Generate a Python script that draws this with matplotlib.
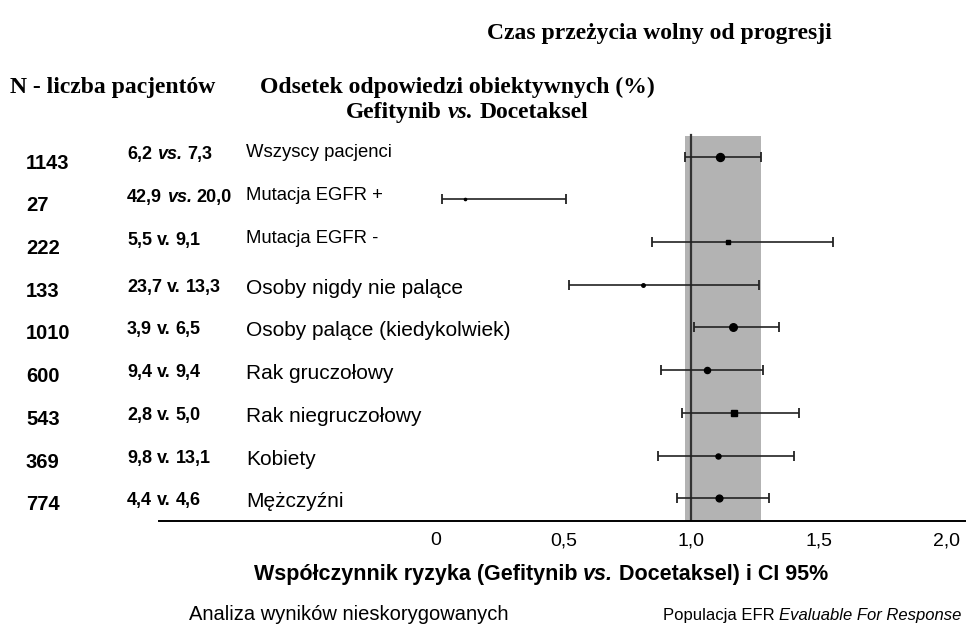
import matplotlib
matplotlib.use('Agg')
import matplotlib.pyplot as plt
import matplotlib.transforms as mtransforms
import numpy as np

plt.rcParams['font.family'] = ['Liberation Sans', 'DejaVu Sans']

# data
groups = ['Wszyscy pacjenci', 'Mutacja EGFR +', 'Mutacja EGFR -', 'Osoby nigdy nie palące',
          'Osoby palące (kiedykolwiek)', 'Rak gruczołowy', 'Rak niegruczołowy', 'Kobiety', 'Mężczyźni']
n_pat = [1143, 27, 222, 133, 1010, 600, 543, 369, 774]
orr_gef = ['6,2', '42,9', '5,5', '23,7', '3,9', '9,4', '2,8', '9,8', '4,4']
orr_sep = ['vs.', 'vs.', 'v.', 'v.', 'v.', 'v.', 'v.', 'v.', 'v.']
orr_doc = ['7,3', '20,0', '9,1', '13,3', '6,5', '9,4', '5,0', '13,1', '4,6']
hr = [1.114, 0.114, 1.145, 0.812, 1.165, 1.063, 1.169, 1.105, 1.110]
ci_lo = [0.975, 0.024, 0.847, 0.520, 1.012, 0.881, 0.965, 0.869, 0.945]
ci_hi = [1.273, 0.510, 1.556, 1.267, 1.345, 1.283, 1.422, 1.404, 1.306]
markers = ['o', 'o', 's', 'o', 'o', 'o', 's', 'o', 'o']
ticks = [0, 0.5, 1.0, 1.5, 2.0]
tick_labels = ['0', '0,5', '1,0', '1,5', '2,0']

W, H = 966, 631
fig = plt.figure(figsize=(W / 100, H / 100), dpi=100)
ax = fig.add_axes([159 / W, 110 / H, 807 / W, 521 / H])
ax.set_xlim(-1.086, 2.078)
ax.set_ylim(8.533, -3.669)

# shaded band = CI of all patients, reference line at 1
ax.axvspan(ci_lo[0], ci_hi[0], ymin=0, ymax=0.739, color='#b3b3b3', lw=0, zorder=1)
ax.axvline(1.0, ymin=0, ymax=0.741, color='#333333', lw=1.6, zorder=2)

rows = np.arange(len(groups))
for i in rows:
    ms = (1.2 + 0.2 * np.sqrt(n_pat[i])) / 1.389
    ax.errorbar(hr[i], i, xerr=[[hr[i] - ci_lo[i]], [ci_hi[i] - hr[i]]], fmt=markers[i],
                color='black', ecolor='#222222', ms=ms, elinewidth=1.2, capsize=3.3,
                capthick=1.3, zorder=3)

for s in ['top', 'left', 'right']:
    ax.spines[s].set_visible(False)
ax.spines['bottom'].set_linewidth(1.4)
ax.set_yticks([])
ax.set_xticks(ticks)
ax.set_xticklabels(tick_labels, fontsize=14)
ax.tick_params(axis='x', length=0, pad=8)

renderer = fig.canvas.get_renderer()


def put(x_px, y, parts, ytrans, size, ha='left', **kw):
    tr = mtransforms.blended_transform_factory(fig.transFigure, ytrans)
    objs = []
    for s, style in parts:
        t = fig.text(0, y, s, transform=tr, va='baseline', fontsize=size, **{**kw, **style})
        objs.append(t)
    widths = [t.get_window_extent(renderer).width for t in objs]
    gap = 0.27 * size * 100 / 72
    total = sum(widths) + gap * (len(objs) - 1)
    x = x_px - total / 2 if ha == 'center' else x_px
    for t, w in zip(objs, widths):
        t.set_x(x / W)
        x += w + gap


# row texts
for i in rows:
    small = i < 3
    put(26, i + 12 / 42.7, [(str(n_pat[i]), {})], ax.transData, 14.5, fontweight='bold')
    sep_style = {'style': 'italic'} if orr_sep[i] == 'vs.' else {}
    put(127, i + (2.5 if small else 7) / 42.7,
        [(orr_gef[i], {}), (orr_sep[i], sep_style), (orr_doc[i], {})],
        ax.transData, 13, fontweight='bold')
    put(246, i + (0.5 if small else 9) / 42.7, [(groups[i], {})], ax.transData,
        13.3 if small else 15)

# headers
serif = ['Liberation Serif', 'DejaVu Serif']
put(659, 1 - 39 / H, [('Czas przeżycia wolny od progresji', {})], fig.transFigure, 17,
    ha='center', family=serif, fontweight='bold')
put(10, 1 - 93 / H, [('N - liczba pacjentów', {})], fig.transFigure, 17,
    family=serif, fontweight='bold')
put(457, 1 - 93 / H, [('Odsetek odpowiedzi obiektywnych (%)', {})], fig.transFigure, 17,
    ha='center', family=serif, fontweight='bold')
put(467, 1 - 118 / H, [('Gefitynib', {}), ('vs.', {'style': 'italic'}), ('Docetaksel', {})],
    fig.transFigure, 17, ha='center', family=serif, fontweight='bold')

# axis title and notes
put(541, 1 - 580 / H,
    [('Współczynnik ryzyka (Gefitynib', {}), ('vs.', {'style': 'italic'}),
     ('Docetaksel) i CI 95%', {})], fig.transFigure, 15.5, ha='center', fontweight='bold')
put(189, 1 - 620 / H, [('Analiza wyników nieskorygowanych', {})], fig.transFigure, 14.5)
put(663, 1 - 620 / H, [('Populacja EFR', {}), ('Evaluable For Response', {'style': 'italic'})],
    fig.transFigure, 12)

fig.savefig('out.png', dpi=100)
